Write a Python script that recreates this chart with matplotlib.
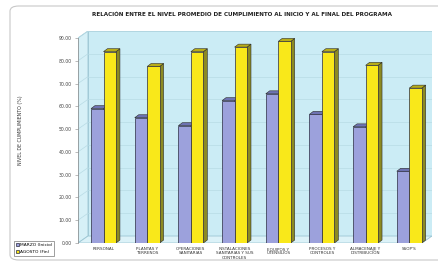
import matplotlib
matplotlib.use("Agg")
import matplotlib.pyplot as plt
from matplotlib.patches import Polygon, FancyBboxPatch
import numpy as np

categories = ["PERSONAL", "PLANTAS Y\nTERRENOS", "OPERACIONES\nSANITARIAS",
              "INSTALACIONES\nSANITARIAS Y SUS\nCONTROLES", "EQUIPOS Y\nUTENSILIOS",
              "PROCESOS Y\nCONTROLES", "ALMACENAJE Y\nDISTRIBUCIÓN", "SSOP'S"]
marzo = [59, 55, 51.5, 62.5, 65.5, 56.5, 51, 31.5]
agosto = [84, 77.5, 84, 86, 88.5, 84, 78, 68]
series_names = ["MARZO (Inicio)", "AGOSTO (Fin)"]
yticks = np.arange(0, 100, 10)

W, H = 439, 263
fig = plt.figure(figsize=(W / 100, H / 100), dpi=100)

# rounded chart border
fig.patches.append(FancyBboxPatch((10 / W, 3 / H), 440 / W, 254 / H,
                                  boxstyle="round,pad=0,rounding_size=0.02",
                                  transform=fig.transFigure, fc="white",
                                  ec="#c8c8c8", lw=0.8, zorder=-5))

ax = fig.add_axes([78 / W, 20 / H, 354 / W, 212 / H])
xmin, xmax = -0.584, 7.52
ymin, ymax = 0, 93.07
ax.set_xlim(xmin, xmax)
ax.set_ylim(ymin, ymax)
ax.set_facecolor("none")

# 3D box: depth offsets
ddx, ddy = 0.229, 3.07
top = 90
ax.add_patch(Polygon([(xmin + ddx, ddy), (xmax, ddy), (xmax, top + ddy), (xmin + ddx, top + ddy)],
                     fc="#cbecf5", ec="#9cc6d4", lw=0.6, zorder=0))
ax.add_patch(Polygon([(xmin, 0), (xmin + ddx, ddy), (xmin + ddx, top + ddy), (xmin, top)],
                     fc="#d6f0f7", ec="#9cc6d4", lw=0.6, zorder=0))
ax.add_patch(Polygon([(xmin, 0), (xmax - ddx, 0), (xmax, ddy), (xmin + ddx, ddy)],
                     fc="#dcf2f8", ec="#9cc6d4", lw=0.6, zorder=0))
for v in yticks[1:]:
    ax.plot([xmin + ddx, xmax], [v + ddy, v + ddy], color="#b8dbe5", lw=0.5, zorder=0.5)
    ax.plot([xmin, xmin + ddx], [v, v + ddy], color="#b8dbe5", lw=0.5, zorder=0.5)

# bars with fake 3D faces
x = np.arange(len(categories))
bw = 0.286
bdx, bdy = 0.09, 1.3
styles = [("#9ca1dc", "#6e73b3", "#7d82c0"), ("#f9e81a", "#b8ad18", "#8c8a22")]
for k, (vals, (front, topc, side)) in enumerate(zip([marzo, agosto], styles)):
    xs = x - bw + k * bw
    ax.bar(xs, vals, width=bw, align="edge", color=front, edgecolor="#2a2a40",
           linewidth=0.5, zorder=3 + k, label=series_names[k])
    for xl, h in zip(xs, vals):
        ax.add_patch(Polygon([(xl + bw, 0), (xl + bw + bdx, bdy), (xl + bw + bdx, h + bdy), (xl + bw, h)],
                             fc=side, ec="#2a2a2a", lw=0.4, zorder=2.9 + k))
        ax.add_patch(Polygon([(xl, h), (xl + bw, h), (xl + bw + bdx, h + bdy), (xl + bdx, h + bdy)],
                             fc=topc, ec="#2a2a2a", lw=0.4, zorder=2.9 + k))

for s in ["top", "right", "bottom"]:
    ax.spines[s].set_visible(False)
ax.spines["left"].set_bounds(0, top)
ax.spines["left"].set_color("#888888")
ax.spines["left"].set_linewidth(0.5)
ax.set_yticks(yticks)
ax.set_yticklabels([f"{v:.2f}" for v in yticks], fontsize=3.3, color="#444444")
ax.tick_params(axis="y", length=2.5, width=0.4, color="#888888", pad=2)
ax.set_xticks(x)
ax.set_xticklabels(categories, fontsize=3.0, color="#333333", linespacing=1.1, va="top")
ax.tick_params(axis="x", length=0, pad=3)

fig.text(242 / W, 1 - 15 / H,
         "RELACIÓN ENTRE EL NIVEL PROMEDIO DE CUMPLIMIENTO AL INICIO Y AL FINAL DEL PROGRAMA",
         ha="center", va="center", fontsize=4.1, fontweight="bold", color="#222222")
fig.text(21 / W, 1 - 130 / H, "NIVEL DE CUMPLIMIENTO (%)", rotation=90,
         ha="center", va="center", fontsize=3.4, color="#333333")

leg = fig.legend(loc="lower left", bbox_to_anchor=(14 / W, 7 / H), fontsize=3.2,
                 frameon=True, fancybox=False, edgecolor="#555555",
                 handlelength=0.7, handleheight=0.8, handletextpad=0.3,
                 borderpad=0.4, labelspacing=0.7, borderaxespad=0)
leg.get_frame().set_linewidth(0.5)

fig.savefig("out.png", dpi=100)
